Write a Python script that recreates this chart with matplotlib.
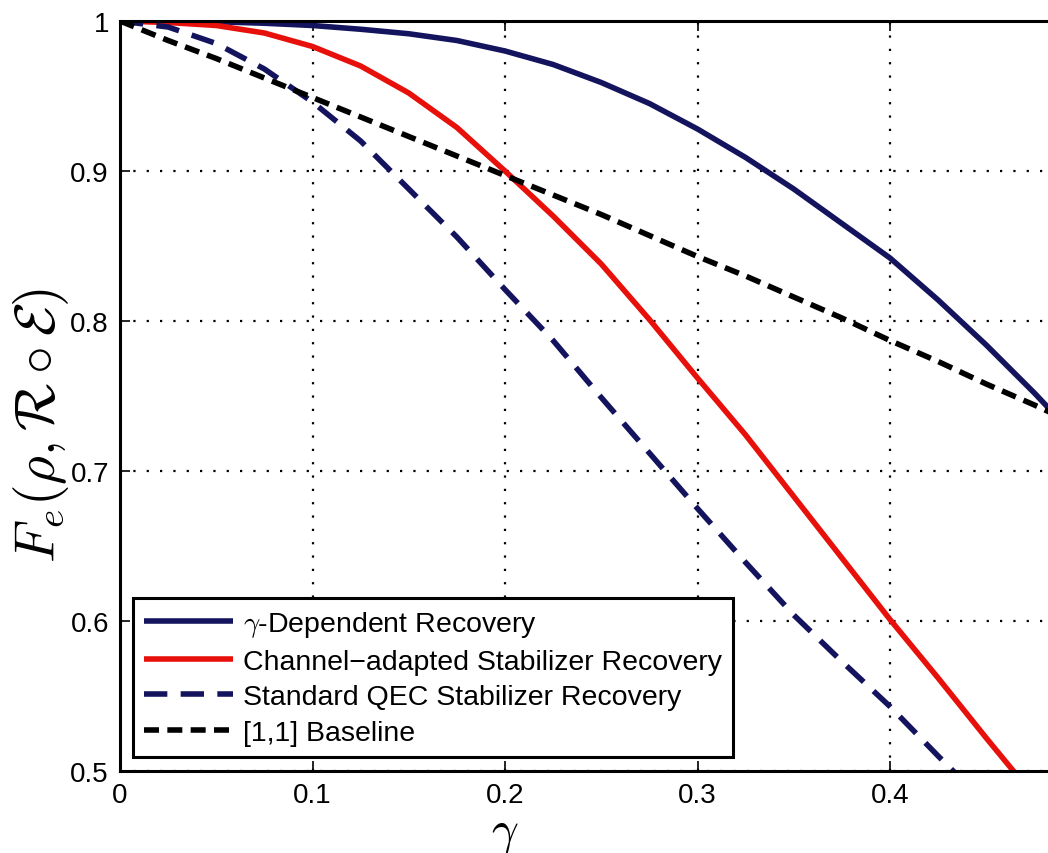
import matplotlib
matplotlib.use("Agg")
import matplotlib.pyplot as plt

plt.rcParams['font.family'] = ['Liberation Sans', 'DejaVu Sans']
plt.rcParams['mathtext.fontset'] = 'cm'

# Noise strength gamma sampled every 0.025
gamma = [0.0, 0.025, 0.05, 0.075, 0.1, 0.125, 0.15, 0.175, 0.2, 0.225, 0.25,
         0.275, 0.3, 0.325, 0.35, 0.375, 0.4, 0.425, 0.45, 0.475, 0.5]

# Entanglement fidelity of each recovery scheme
gamma_dependent = [1.000, 0.9999, 0.9995, 0.9985, 0.997, 0.9945, 0.9915, 0.987, 0.980, 0.971, 0.959,
                   0.945, 0.928, 0.909, 0.888, 0.865, 0.842, 0.814, 0.784, 0.752, 0.718]
channel_adapted = [1.000, 0.999, 0.997, 0.992, 0.983, 0.970, 0.952, 0.929, 0.900, 0.870, 0.838,
                   0.801, 0.762, 0.724, 0.683, 0.642, 0.601, 0.562, 0.522, 0.483, 0.444]
standard_qec = [1.000, 0.996, 0.985, 0.968, 0.946, 0.920, 0.888, 0.856, 0.821, 0.787, 0.749,
                0.712, 0.675, 0.639, 0.604, 0.573, 0.543, 0.510, 0.478, 0.448, 0.418]
baseline = [1.000, 0.987, 0.975, 0.962, 0.949, 0.936, 0.923, 0.910, 0.897, 0.884, 0.871,
            0.857, 0.843, 0.830, 0.816, 0.802, 0.787, 0.773, 0.758, 0.744, 0.729]

x_ticks = [0, 0.1, 0.2, 0.3, 0.4]
x_tick_labels = ['0', '0.1', '0.2', '0.3', '0.4']
y_ticks = [0.5, 0.6, 0.7, 0.8, 0.9, 1.0]
y_tick_labels = ['0.5', '0.6', '0.7', '0.8', '0.9', '1']

labels = [r'$\gamma$-Dependent Recovery',
          'Channel\u2212adapted Stabilizer Recovery',
          'Standard QEC Stabilizer Recovery',
          '[1,1] Baseline']

NAVY = '#14145e'
RED = '#e8100a'

W, H = 1048, 854
fig = plt.figure(figsize=(W / 100, H / 100), dpi=100)
left_px, top_px, bottom_px = 120, 22, 772
x_span = 0.5
ax_w_px = x_span * 1925
ax_h_px = bottom_px - top_px
ax = fig.add_axes([left_px / W, 1 - bottom_px / H, ax_w_px / W, ax_h_px / H])

lw = 4.0
ax.plot(gamma, gamma_dependent, color=NAVY, lw=lw, solid_capstyle='butt', label=labels[0])
ax.plot(gamma, channel_adapted, color=RED, lw=lw, solid_capstyle='butt', label=labels[1])
ax.plot(gamma, standard_qec, color=NAVY, lw=lw, linestyle=(0, (4.2, 2.4)), dash_capstyle='butt',
        label=labels[2])
ax.plot(gamma, baseline, color='black', lw=lw, linestyle=(0, (2.7, 1.5)), dash_capstyle='butt',
        label=labels[3])

ax.set_xlim(0, x_span)
ax.set_ylim(0.5, 1.0)
ax.set_xticks(x_ticks)
ax.set_xticklabels(x_tick_labels)
ax.set_yticks(y_ticks)
ax.set_yticklabels(y_tick_labels)
ax.tick_params(direction='in', length=7, width=1.2, labelsize=20, pad=8,
               top=True, right=False)
for s in ax.spines.values():
    s.set_linewidth(2.2)
ax.grid(True, color='black', linestyle=(0, (1, 5)), linewidth=1.6)

fig.text(505 / W, 1 - 834 / H, r'$\gamma$', fontsize=34, ha='center', va='center')
fig.text(41 / W, 1 - 426 / H, r'$F_e(\rho,\mathcal{R}\circ\mathcal{E})$', fontsize=40,
         rotation=90, ha='center', va='center')

leg = ax.legend(loc='lower left',
                bbox_to_anchor=((133 - left_px) / ax_w_px, (bottom_px - 758) / ax_h_px),
                fontsize=20.5, frameon=True, fancybox=False, handlelength=3.1,
                handletextpad=0.35, labelspacing=0.33, borderpad=0.4, borderaxespad=0)
leg.get_frame().set_edgecolor('black')
leg.get_frame().set_linewidth(2.2)
leg.get_frame().set_alpha(1)

fig.savefig('out.png', dpi=100)
